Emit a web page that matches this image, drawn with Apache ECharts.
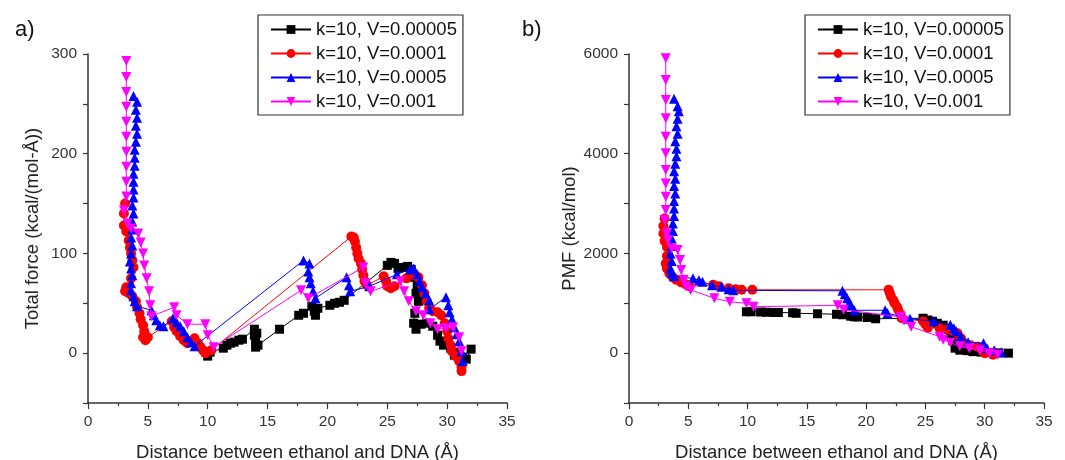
<!DOCTYPE html>
<html>
<head>
<meta charset="utf-8">
<script src="https://cdn.jsdelivr.net/npm/echarts@6/dist/echarts.min.js"></script>
<style>
html,body{margin:0;padding:0;background:#fff;}
#main{width:1065px;height:460px;}
</style>
</head>
<body>
<div id="main"></div>
<script>
// ---------- names ----------
const seriesNames = ['k=10, V=0.00005', 'k=10, V=0.0001', 'k=10, V=0.0005', 'k=10, V=0.001'];
const xTitle = 'Distance between ethanol and DNA (Å)';
const yTitleForce = 'Total force (kcal/(mol-Å))';
const yTitlePMF = 'PMF (kcal/mol)';

// ---------- panel a) total force: [distance, force] ----------
const forceV00005 = [[10.0,-3],[10.2,1],[11.3,5],[11.6,8],[11.9,10],[12.2,11],[12.6,13],[12.9,14],[13.9,24],[13.9,18],[14.0,12],[14.0,6],[14.1,20],[14.2,8],[16.0,24],[17.6,38],[18.0,40],[18.7,47],[18.9,42],[19.0,38],[19.2,45],[20.2,48],[20.6,50],[21.0,51],[21.4,53],[25.0,88],[25.3,91],[25.6,90],[25.9,85],[26.3,86],[26.7,87],[27.0,84],[27.2,76],[27.5,68],[27.4,60],[27.6,52],[27.3,40],[27.2,30],[27.4,24],[27.8,29],[28.3,30],[28.8,27],[29.2,18],[29.4,12],[29.7,8],[30.0,12],[30.3,5],[30.6,-2],[30.9,1],[31.3,-4],[31.6,-6],[32.0,4]];
const forceV0001 = [[3.1,150],[3.0,140],[3.0,128],[3.2,122],[3.4,113],[3.5,106],[3.6,100],[3.7,93],[3.8,86],[3.6,75],[3.2,66],[3.1,62],[3.4,60],[3.7,57],[4.0,52],[4.1,46],[4.3,40],[4.4,34],[4.6,28],[4.7,22],[4.6,16],[4.8,13],[5.0,16],[7.0,32],[7.2,26],[7.4,22],[7.7,17],[8.0,13],[8.3,10],[8.6,12],[8.9,15],[9.2,10],[9.4,6],[9.6,3],[9.8,0],[10.3,3],[22.0,117],[22.2,116],[22.3,112],[22.4,106],[22.5,100],[22.6,95],[22.8,90],[22.9,84],[23.0,78],[23.1,72],[23.3,68],[24.7,77],[24.9,72],[25.0,67],[25.3,65],[25.6,67],[26.6,75],[27.3,78],[27.6,76],[27.9,68],[28.1,60],[28.3,52],[28.5,45],[28.8,42],[29.2,41],[29.5,38],[29.8,30],[30.0,22],[30.1,15],[30.3,8],[30.4,2],[30.7,-3],[31.0,-8],[31.2,-14],[31.2,-18]];
const forceV0005 = [[3.8,258],[4.1,252],[4.0,244],[4.1,236],[4.0,228],[4.1,220],[4.0,212],[3.9,204],[3.9,196],[3.9,188],[3.8,180],[3.8,172],[3.8,164],[3.8,156],[3.7,148],[3.8,140],[3.7,132],[3.7,124],[3.6,116],[3.7,108],[3.6,100],[3.5,92],[3.6,85],[3.7,78],[3.6,70],[3.6,63],[3.8,57],[3.9,52],[4.1,47],[5.3,43],[5.5,38],[5.7,33],[6.0,28],[6.3,27],[7.1,35],[7.4,31],[7.7,27],[8.0,22],[8.3,16],[8.6,11],[8.9,7],[18.0,93],[18.5,90],[18.4,82],[18.5,76],[18.6,70],[18.8,62],[19.0,55],[21.6,76],[21.8,68],[21.9,62],[23.5,67],[25.8,79],[26.9,84],[27.2,85],[27.5,79],[27.7,72],[27.9,66],[28.2,60],[28.5,53],[28.5,44],[29.9,56],[30.1,48],[30.2,41],[30.4,34],[30.6,26],[30.8,19],[31.0,12],[31.2,2],[31.3,-8]];
const forceV001 = [[3.2,293],[3.2,277],[3.2,262],[3.2,247],[3.2,232],[3.2,217],[3.2,202],[3.2,187],[3.2,172],[3.2,157],[3.0,143],[3.3,130],[3.6,125],[4.2,120],[4.4,111],[4.6,100],[4.7,88],[4.9,75],[5.1,62],[5.2,48],[5.3,37],[7.2,46],[7.4,38],[8.3,29],[9.8,29],[10.0,18],[10.5,6],[17.8,63],[18.4,55],[23.0,86],[23.2,70],[23.6,62],[26.1,72],[26.4,62],[26.8,52],[27.4,42],[28.0,38],[28.6,30],[29.2,24],[29.9,25],[30.5,26],[31.0,16],[31.2,2]];

// ---------- panel b) PMF: [distance, pmf] ----------
const pmfV00005 = [[9.9,830],[10.3,830],[11.1,825],[11.6,820],[12.2,815],[12.6,815],[13.8,810],[14.1,800],[15.9,790],[17.5,780],[18.0,770],[18.7,740],[19.0,730],[19.3,725],[20.1,715],[20.8,690],[24.8,700],[25.2,665],[25.6,640],[26.0,600],[26.5,560],[26.9,480],[27.1,400],[27.3,250],[27.5,100],[27.9,60],[28.5,50],[29.0,30],[29.7,20],[30.5,10],[31.2,5],[32.0,0]];
const pmfV0001 = [[3.0,2700],[2.9,2550],[2.9,2400],[3.0,2250],[3.2,2130],[3.2,1950],[3.1,1800],[3.2,1700],[3.4,1600],[3.7,1520],[4.0,1470],[4.4,1420],[4.8,1380],[5.1,1340],[7.1,1370],[7.6,1340],[8.4,1300],[9.0,1280],[9.5,1270],[10.4,1270],[21.9,1270],[22.0,1200],[22.1,1130],[22.3,1060],[22.4,1000],[22.6,930],[22.7,870],[22.9,780],[23.0,700],[24.8,640],[25.0,580],[25.2,510],[26.2,500],[26.9,480],[27.3,440],[27.7,400],[28.0,300],[28.3,200],[28.8,160],[29.4,130],[29.8,60],[30.0,0],[30.7,-30]];
const pmfV0005 = [[3.8,5100],[4.1,4950],[4.2,4850],[4.1,4700],[4.0,4550],[4.1,4400],[3.9,4250],[4.0,4100],[4.0,3950],[3.9,3800],[3.8,3650],[3.9,3500],[3.8,3350],[3.9,3200],[3.8,3050],[3.8,2900],[3.8,2750],[3.7,2600],[3.7,2450],[3.6,2300],[3.6,2150],[3.5,2000],[3.6,1850],[3.5,1700],[3.6,1600],[3.8,1540],[5.4,1500],[5.9,1460],[6.2,1430],[7.0,1360],[7.8,1330],[8.4,1280],[8.8,1260],[18.0,1250],[18.2,1180],[18.4,1100],[18.6,1020],[18.7,960],[19.0,860],[21.6,860],[21.8,800],[23.7,690],[25.7,640],[27.1,570],[27.4,500],[27.6,440],[28.0,340],[28.6,220],[29.9,200],[30.2,100],[30.8,60],[31.4,20]];
const pmfV001 = [[3.1,5914],[3.1,5478],[3.1,5077],[3.1,4710],[3.1,4341],[3.1,4007],[3.1,3672],[3.1,3405],[3.1,3137],[3.1,2870],[3.0,2669],[3.2,2400],[3.3,2268],[3.6,2100],[4.1,2067],[4.3,1870],[4.4,1668],[4.6,1468],[4.8,1335],[5.2,1268],[7.2,1100],[8.5,1030],[9.9,1000],[10.5,930],[17.6,960],[18.1,870],[22.9,730],[23.2,650],[23.8,530],[26.2,330],[26.5,270],[27.1,210],[27.9,140],[28.7,100],[29.6,60],[30.4,0],[31.1,-30]];

// ---------- styling ----------
const colors = ['#000000', '#ff0000', '#0000ff', '#ff00ff'];
const symbols = ['rect', 'circle', 'triangle', 'path://M0,0 L10,0 L5,9 Z'];
const symbolSizes = [9, 10, 10, 10];
const FONT = '"Liberation Sans", Arial, sans-serif';
const axisColor = '#333';

const forceData = [forceV00005, forceV0001, forceV0005, forceV001];
const pmfData = [pmfV00005, pmfV0001, pmfV0005, pmfV001];

function makeSeries(dataSets, idx) {
  return dataSets.map((d, i) => ({
    name: seriesNames[i],
    type: 'line',
    xAxisIndex: idx,
    yAxisIndex: idx,
    data: d,
    symbol: symbols[i],
    symbolSize: symbolSizes[i],
    showAllSymbol: true,
    color: colors[i],
    lineStyle: { width: 1, color: colors[i] },
    itemStyle: { color: colors[i] },
    emphasis: { disabled: true },
    animation: false,
    z: 2 + i
  }));
}

function xAxisDef(gridIndex) {
  return {
    type: 'value', gridIndex, min: 0, max: 35, interval: 5,
    name: xTitle, nameLocation: 'middle', nameGap: 40,
    nameTextStyle: { fontSize: 18.5, color: '#222', fontFamily: FONT },
    axisLine: { show: true, onZero: false, lineStyle: { color: axisColor, width: 1.5 } },
    axisTick: { show: true, inside: false, length: 6, lineStyle: { color: axisColor, width: 1.2 } },
    minorTick: { show: true, splitNumber: 2, length: 3, lineStyle: { color: axisColor, width: 1.2 } },
    axisLabel: { fontSize: 15.5, color: '#333', fontFamily: FONT, margin: 11 },
    splitLine: { show: false }
  };
}

function yAxisDef(gridIndex, min, max, interval, labelStep, name, nameGap) {
  return {
    type: 'value', gridIndex, min, max, interval,
    name, nameLocation: 'middle', nameGap,
    nameTextStyle: { fontSize: 18.5, color: '#222', fontFamily: FONT },
    axisLine: { show: true, onZero: false, lineStyle: { color: axisColor, width: 1.5 } },
    axisTick: { show: true, inside: false, length: 5, lineStyle: { color: axisColor, width: 1.2 } },
    axisLabel: {
      fontSize: 15.5, color: '#333', fontFamily: FONT, margin: 11,
      formatter: v => (Math.round(v) % labelStep === 0 ? String(v) : '')
    },
    splitLine: { show: false }
  };
}

function legendDef(left) {
  return {
    orient: 'vertical', left, top: 15,
    data: seriesNames,
    itemWidth: 40, itemHeight: 11, itemGap: 5,
    padding: [5, 6, 4, 12],
    borderColor: '#333', borderWidth: 1.2,
    textStyle: { fontSize: 18.5, color: '#111', fontFamily: FONT },
    selectedMode: false
  };
}

const chart = echarts.init(document.getElementById('main'), null, { renderer: 'canvas' });
chart.setOption({
  animation: false,
  backgroundColor: '#fff',
  title: [
    { text: 'a)', left: 10, top: 14, textStyle: { fontSize: 22, fontWeight: 'normal', color: '#111', fontFamily: FONT } },
    { text: 'b)', left: 517, top: 14, textStyle: { fontSize: 22, fontWeight: 'normal', color: '#111', fontFamily: FONT } }
  ],
  legend: [legendDef(258), legendDef(805)],
  grid: [
    { left: 88, top: 54, width: 419, height: 349, containLabel: false, outerBoundsMode: 'none' },
    { left: 629, top: 54, width: 415, height: 349, containLabel: false, outerBoundsMode: 'none' }
  ],
  xAxis: [xAxisDef(0), xAxisDef(1)],
  yAxis: [
    yAxisDef(0, -50, 300, 50, 100, yTitleForce, 46),
    yAxisDef(1, -1000, 6000, 1000, 2000, yTitlePMF, 47)
  ],
  series: [...makeSeries(forceData, 0), ...makeSeries(pmfData, 1)]
});
</script>
</body>
</html>
